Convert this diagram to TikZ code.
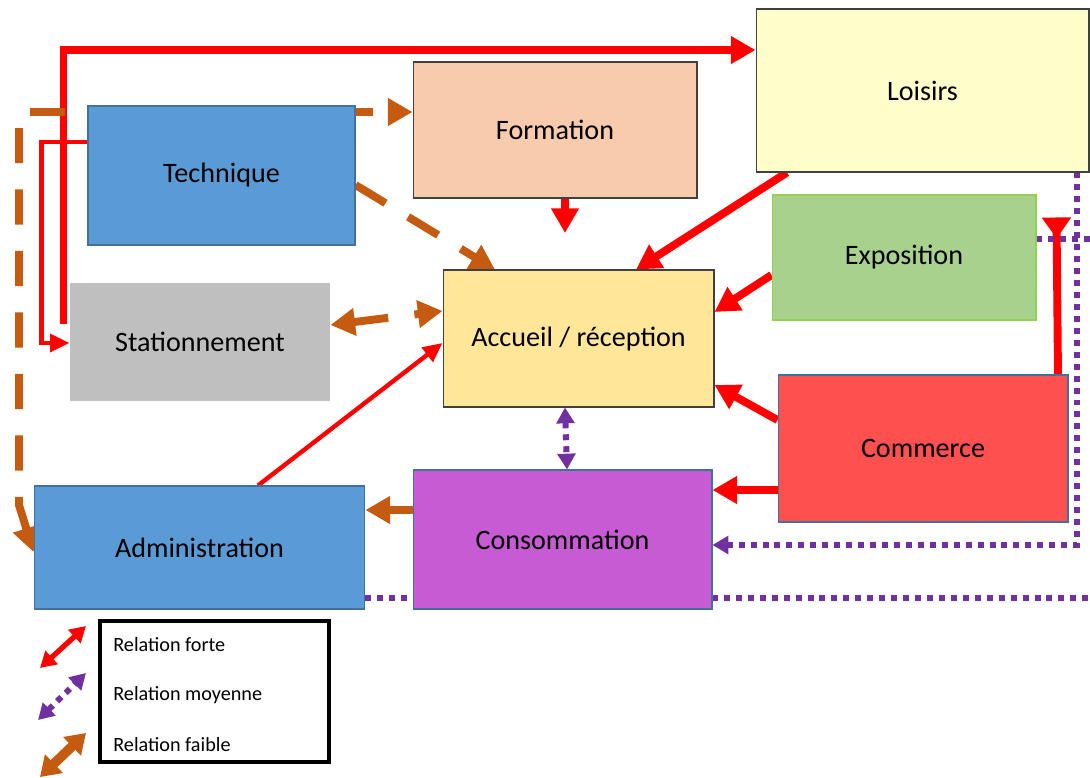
\documentclass[tikz,border=0pt]{standalone}
\usepackage{fontspec}
\setmainfont{Carlito}
\usetikzlibrary{arrows.meta,backgrounds}

\definecolor{rouge}{HTML}{FF0000}
\definecolor{orangef}{HTML}{C55A11}
\definecolor{violet}{HTML}{7030A0}
\definecolor{bleu}{HTML}{5B9BD5}
\definecolor{bordbleu}{HTML}{41719C}
\definecolor{saumon}{HTML}{F8CBAD}
\definecolor{jaunepale}{HTML}{FFFFCC}
\definecolor{vert}{HTML}{A9D18E}
\definecolor{bordvert}{HTML}{92D050}
\definecolor{gris}{HTML}{BFBFBF}
\definecolor{jaune}{HTML}{FFE699}
\definecolor{rougeclair}{HTML}{FF5050}
\definecolor{mauve}{HTML}{C65BD3}

\tikzset{
  bloc/.style={rectangle, inner sep=0pt, line width=0.6pt, font=\fontsize{16}{19}\selectfont},
  forte/.style={draw=rouge, line width=4.5pt, >={Triangle[length=14pt,width=15pt]}},
  fortefine/.style={draw=rouge, line width=2.5pt, >={Triangle[length=11pt,width=10pt]}},
  moyenne/.style={draw=violet, line width=3.4pt, dash pattern=on 3.4pt off 3.4pt, >={Triangle[length=9pt,width=10pt]}},
  faible/.style={draw=orangef, line width=4.5pt, dash pattern=on 20pt off 15pt, >={Triangle[length=14pt,width=15pt]}}
}

\begin{document}
\begin{tikzpicture}[x=0.02cm, y=-0.02cm]
  \useasboundingbox (0,0) rectangle (1090,778);
  % les blocs
  \node[bloc, fill=bleu, draw=bordbleu, minimum width=5.34cm, minimum height=2.78cm] (tech) at (221.5,175.5) {Technique};
  \node[bloc, fill=saumon, draw=black!75, minimum width=5.68cm, minimum height=2.72cm] (form) at (555,130) {Formation};
  \node[bloc, fill=jaunepale, draw=black!75, minimum width=6.66cm, minimum height=3.26cm] (lois) at (922.5,90.5) {Loisirs};
  \node[bloc, fill=vert, draw=bordvert, minimum width=5.28cm, minimum height=2.5cm] (expo) at (904,257.5) {Exposition};
  \node[bloc, fill=gris, minimum width=5.2cm, minimum height=2.36cm] (stat) at (200,342) {Stationnement};
  \node[bloc, fill=jaune, draw=black!75, minimum width=5.42cm, minimum height=2.74cm] (acc) at (578.5,338.5) {Accueil / réception};
  \node[bloc, fill=rougeclair, draw=bordbleu, minimum width=5.8cm, minimum height=2.94cm] (comm) at (923,448.5) {Commerce};
  \node[bloc, fill=mauve, draw=bordbleu, minimum width=5.98cm, minimum height=2.78cm] (conso) at (562.5,539.5) {Consommation};
  \node[bloc, fill=bleu, draw=bordbleu, minimum width=6.62cm, minimum height=2.46cm] (admin) at (199.5,547.5) {Administration};

  \coordinate (o1) at (30,112);
  \coordinate (o2) at (19,128);
  \coordinate (fbas) at (565,233);
  \coordinate (bord1) at (1090,239);
  \coordinate (bord2) at (1090,598);

  % les relations
  \begin{scope}[on background layer]
    \draw[forte,->] ([shift={(-6,42)}]stat.north west) |- (lois.west |- 0,50);
    \draw[fortefine,->] (tech.west |- 0,142) -- ++(-46,0) |- (stat.west |- 0,343);
    \draw[faible,->] (o1) -- (form.west |- 0,112);
    \draw[faible,->] (o2) -- (19,505) -- (admin.west |- 0,552);
    \draw[faible,->] (tech.east |- 0,185) -- (acc.north -| 495,0);
    \draw[faible,<->] (stat.east |- 0,325) -- (acc.west |- 0,311);
    \draw[forte,->] (form.south -| 565,0) -- (fbas);
    \draw[forte,->] (lois.south -| 787,0) -- (acc.north -| 636,0);
    \draw[forte,->] (expo.west |- 0,275) -- (acc.east |- 0,312);
    \draw[forte,->] (comm.west |- 0,420) -- (acc.east |- 0,385);
    \draw[forte,->] (comm.west |- 0,490) -- (conso.east |- 0,490);
    \draw[forte,-{Triangle[reversed,length=12pt,width=16pt]}] (comm.north -| 1058,0) -- ([shift={(20,23)}]expo.north east);
    \draw[fortefine,->] (admin.north -| 258,0) -- (acc.west |- 0,343);
    \draw[faible,->] (conso.west |- 0,510) -- (admin.east |- 0,510);
    \draw[moyenne,<->] (acc.south -| 565,0) -- (conso.north -| 567,0);
    \draw[moyenne,->] (lois.south -| 1077,0) |- (conso.east |- 0,545);
    \draw[moyenne] (expo.east |- 0,239) -- (bord1);
    \draw[moyenne] (admin.east |- 0,598) -- (bord2);
  \end{scope}

  % legende
  \node[draw=black, line width=2.3pt, minimum width=4.58cm, minimum height=2.82cm, inner sep=0pt] (leg) at (214.5,691.5) {};
  \node[anchor=west, inner sep=0pt, font=\fontsize{11.5}{13}\selectfont] (lforte) at (113,645) {Relation forte};
  \node[anchor=west, inner sep=0pt, font=\fontsize{11.5}{13}\selectfont] (lmoy) at (113,695) {Relation moyenne};
  \node[anchor=west, inner sep=0pt, font=\fontsize{11.5}{13}\selectfont] (lfaib) at (113,745) {Relation faible};
  \coordinate (a1) at (40,668);
  \coordinate (b1) at (86,626);
  \coordinate (a2) at (38,720);
  \coordinate (b2) at (86,673);
  \coordinate (a3) at (40,777);
  \coordinate (b3) at (86,733);
  \draw[draw=rouge, line width=3pt, <->, >={Triangle[length=9pt,width=10pt]}] (a1) -- (b1);
  \draw[moyenne, <->] (a2) -- (b2);
  \draw[draw=orangef, line width=5.5pt, <->, >={Triangle[length=11pt,width=14pt]}] (a3) -- (b3);
\end{tikzpicture}
\end{document}
